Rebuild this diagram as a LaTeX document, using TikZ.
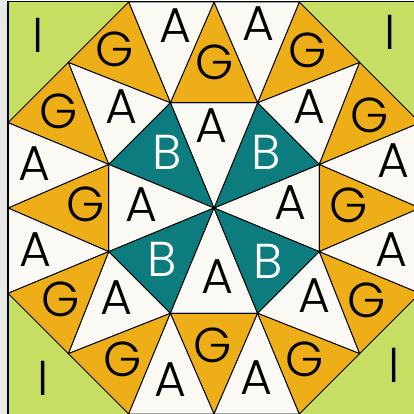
\documentclass[tikz,border=0pt]{standalone}
\usepackage{fontspec}
\setmainfont{Poppins}[UprightFont=* Light]
\definecolor{leaf}{HTML}{C6DF63}
\definecolor{gold}{HTML}{EEAE18}
\definecolor{petrol}{HTML}{0C7C7F}
\definecolor{paper}{HTML}{FAF9F3}
\definecolor{margin}{HTML}{E8E8E8}
\tikzset{
  apatch/.style={draw, fill=paper, line width=0.9pt, line join=round},
  bpatch/.style={apatch, fill=petrol},
  gpatch/.style={apatch, fill=gold},
  letter/.style={inner sep=0pt, font=\fontsize{49}{49}\selectfont},
  bletter/.style={letter, text=white}
}

\begin{document}
\begin{tikzpicture}[x=1pt, y=1pt]
\useasboundingbox (-214,-206) rectangle (200,208);
\fill[margin] (-214,-206) rectangle (-206,208);
\fill[leaf] (-206,-206) rectangle (210,206.5);

% hub, inner ring, edge points
\coordinate (c) at (0,0);
\foreach \k in {0,...,7}{
  \coordinate (p\k) at ({22.5+45*\k}:114);
  \coordinate (q\k) at ({22.5+45*\k}:223);
  \coordinate (m\k) at ({45*\k}:206);
}

% star around the hub
\draw[apatch] (c) -- (p7) -- (p0) -- cycle;
\draw[bpatch] (c) -- (p0) -- (p1) -- cycle;
\draw[apatch] (c) -- (p1) -- (p2) -- cycle;
\draw[bpatch] (c) -- (p2) -- (p3) -- cycle;
\draw[apatch] (c) -- (p3) -- (p4) -- cycle;
\draw[bpatch] (c) -- (p4) -- (p5) -- cycle;
\draw[apatch] (c) -- (p5) -- (p6) -- cycle;
\draw[bpatch] (c) -- (p6) -- (p7) -- cycle;

% outside the octagon
\draw[gpatch] (p7) -- (p0) -- (m0) -- cycle;
\draw[apatch] (p0) -- (p1) -- (m1) -- cycle;
\draw[gpatch] (p1) -- (p2) -- (m2) -- cycle;
\draw[apatch] (p2) -- (p3) -- (m3) -- cycle;
\draw[gpatch] (p3) -- (p4) -- (m4) -- cycle;
\draw[apatch] (p4) -- (p5) -- (m5) -- cycle;
\draw[gpatch] (p5) -- (p6) -- (m6) -- cycle;
\draw[apatch] (p6) -- (p7) -- (m7) -- cycle;

% outer ring
\draw[apatch] (p0) -- (m0) -- (q0) -- cycle;
\draw[gpatch] (p0) -- (q0) -- (m1) -- cycle;
\draw[gpatch] (p1) -- (m1) -- (q1) -- cycle;
\draw[apatch] (p1) -- (q1) -- (m2) -- cycle;
\draw[apatch] (p2) -- (m2) -- (q2) -- cycle;
\draw[gpatch] (p2) -- (q2) -- (m3) -- cycle;
\draw[gpatch] (p3) -- (m3) -- (q3) -- cycle;
\draw[apatch] (p3) -- (q3) -- (m4) -- cycle;
\draw[apatch] (p4) -- (m4) -- (q4) -- cycle;
\draw[gpatch] (p4) -- (q4) -- (m5) -- cycle;
\draw[gpatch] (p5) -- (m5) -- (q5) -- cycle;
\draw[apatch] (p5) -- (q5) -- (m6) -- cycle;
\draw[apatch] (p6) -- (m6) -- (q6) -- cycle;
\draw[gpatch] (p6) -- (q6) -- (m7) -- cycle;
\draw[gpatch] (p7) -- (m7) -- (q7) -- cycle;
\draw[apatch] (p7) -- (q7) -- (m0) -- cycle;

\draw[line width=1.2pt] (-206,-208) rectangle (210,206.5);

% letters
\node[letter] (i1) at (-176,173) {I};
\node[letter] (i2) at (176,176) {I};
\node[letter] (i3) at (-171,-170) {I};
\node[letter] (i4) at (180,-157) {I};

\node[letter] (g1) at (-99,159) {G};
\node[letter] (g2) at (1,146) {G};
\node[letter] (g3) at (94,158) {G};
\node[letter] (g4) at (-155,97) {G};
\node[letter] (g5) at (156,93) {G};
\node[letter] (g6) at (-128,4) {G};
\node[letter] (g7) at (135,3) {G};
\node[letter] (g8) at (-153,-91) {G};
\node[letter] (g9) at (153,-92) {G};
\node[letter] (g10) at (-91,-151) {G};
\node[letter] (g11) at (-1,-137) {G};
\node[letter] (g12) at (91,-151) {G};

\node[letter] (a1) at (-39,182) {A};
\node[letter] (a2) at (44,184) {A};
\node[letter] (a3) at (-93,101) {A};
\node[letter] (a4) at (-3,82) {A};
\node[letter] (a5) at (95,101) {A};
\node[letter] (a6) at (-180,44) {A};
\node[letter] (a7) at (179,47) {A};
\node[letter] (a8) at (-73,3) {A};
\node[letter] (a9) at (76,5) {A};
\node[letter] (a10) at (-179,-42) {A};
\node[letter] (a11) at (177,-42) {A};
\node[letter] (a12) at (3,-69) {A};
\node[letter] (a13) at (-98,-90) {A};
\node[letter] (a14) at (100,-88) {A};
\node[letter] (a15) at (-44,-172) {A};
\node[letter] (a16) at (42,-170) {A};

\node[bletter] (b1) at (-47,56) {B};
\node[bletter] (b2) at (52,56) {B};
\node[bletter] (b3) at (-52,-51) {B};
\node[bletter] (b4) at (54,-53) {B};
\end{tikzpicture}
\end{document}
